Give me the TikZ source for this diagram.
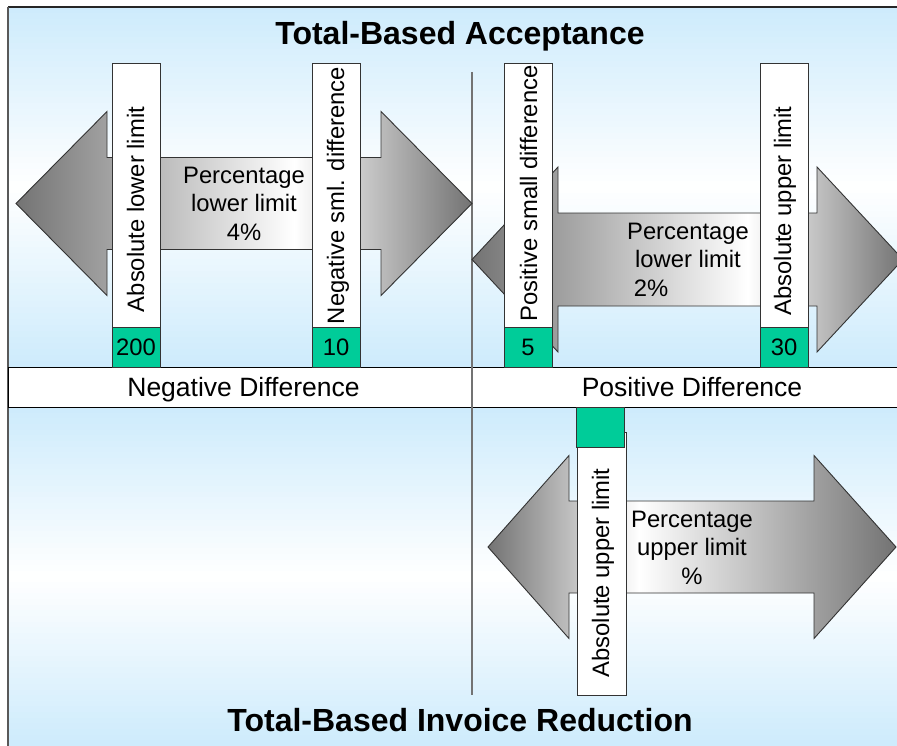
\documentclass[tikz,border=0pt]{standalone}
\usepackage{fontspec}
\setmainfont{Liberation Sans}
\definecolor{bgblue}{HTML}{CDEBFC}
\definecolor{agray}{HTML}{737373}
\definecolor{gbox}{HTML}{00CC99}
\definecolor{edge}{HTML}{333333}
\pgfdeclarehorizontalshading{arrA}{100bp}{color(0bp)=(agray); color(25bp)=(agray); color(55.5bp)=(white); color(75bp)=(agray); color(100bp)=(agray)}
\pgfdeclarehorizontalshading{arrB}{100bp}{color(0bp)=(agray); color(25bp)=(agray); color(57bp)=(white); color(75bp)=(agray); color(100bp)=(agray)}
\pgfdeclarehorizontalshading{arrC}{100bp}{color(0bp)=(agray); color(25bp)=(agray); color(43.5bp)=(white); color(75bp)=(agray); color(100bp)=(agray)}
% #1 tipL, #2 baseL, #3 baseR, #4 tipR, #5 cy, #6 head half height, #7 shaft half height, #8 shading
\newcommand{\dblarr}[8]{%
  \path[shading=#8, draw=edge, line width=0.9bp, line join=miter]
    (#1,#5) -- (#2,#5-#6) -- (#2,#5-#7) -- (#3,#5-#7) -- (#3,#5-#6) -- (#4,#5)
    -- (#3,#5+#6) -- (#3,#5+#7) -- (#2,#5+#7) -- (#2,#5+#6) -- cycle;}
% vertical blue-white-blue background made of strips: #1 top, #2 bottom
\newcommand{\bgpanel}[2]{%
  \foreach \i in {0,...,59}{%
    \pgfmathsetmacro{\ya}{#1+(#2-#1)/60*\i}%
    \pgfmathsetmacro{\yb}{#1+(#2-#1)/60*(\i+1)+0.6}%
    \pgfmathsetmacro{\tt}{abs(1-(\i+0.5)/30)*100}%
    \fill[bgblue!\tt!white] (8,\ya) rectangle (897,\yb);}}
\begin{document}
\begin{tikzpicture}[x=1bp, y=-1bp,
  txt/.style={font=\fontsize{23.8bp}{28.5bp}\selectfont, inner sep=0pt, text=black},
  band/.style={font=\fontsize{26.5bp}{30bp}\selectfont, inner sep=0pt},
  ttl/.style={font=\fontsize{32bp}{36bp}\selectfont\bfseries, inner sep=0pt},
  bar/.style={fill=white, draw=edge, line width=0.9bp},
  gbx/.style={fill=gbox, draw=edge, line width=0.9bp}]
\useasboundingbox (0,0) rectangle (897,746);
\fill[white] (0,0) rectangle (897,746);
% backgrounds
\bgpanel{7}{367}
\bgpanel{407}{746}
\draw[line width=2bp, color=black!85] (8,7) -- (897,7);
\draw[line width=1.5bp, color=black!65] (8,7) -- (8,746);
% middle band
\draw[fill=white, draw=black, line width=1bp] (8,367) rectangle (899,407);
\node[band, anchor=base] (negd) at (243.5,396) {Negative Difference};
\node[band, anchor=base] (posd) at (692,396) {Positive Difference};
% divider
\draw[line width=1.5bp, color=black!55] (472,72) -- (472,695);
% titles
\node[ttl, anchor=base] (t1) at (460,44.5) {Total-Based Acceptance};
\node[ttl, anchor=base] (t2) at (460,731.5) {Total-Based Invoice Reduction};
% arrows
\dblarr{16}{107}{381}{472}{203.5}{92}{46}{arrA}
\begin{scope}
\clip (0,0) rectangle (897,746);
\dblarr{472}{558}{817}{903}{259.5}{92.5}{46.5}{arrB}
\end{scope}
\dblarr{488}{569}{814}{896}{547}{91.5}{46}{arrC}
% arrow texts
\node[txt, align=center, anchor=north] (p1) at (244,166.7) {Percentage\\lower limit\\4\%};
\node[txt, align=center, anchor=north] (p2) at (688,222.7) {Percentage\\lower limit\\2\%\hspace*{74bp}};
\node[txt, align=center, anchor=north] (p3) at (692,510.7) {Percentage\\upper limit\\\%};
% top bars
\draw[bar] (112,63) rectangle (160,327);
\draw[gbx] (112,327) rectangle (160,367);
\draw[bar] (312,63) rectangle (360,327);
\draw[gbx] (312,327) rectangle (360,367);
\draw[bar] (504,63) rectangle (552,327);
\draw[gbx] (504,327) rectangle (552,367);
\draw[bar] (760,63) rectangle (808,327);
\draw[gbx] (760,327) rectangle (808,367);
\node[txt, rotate=90, anchor=base] (b1) at (144,209.5) {Absolute lower limit};
\node[txt, rotate=90, anchor=base] (b2) at (344,195.5) {Negative sml. difference};
\node[txt, rotate=90, anchor=base] (b3) at (537,193.5) {Positive small difference};
\node[txt, rotate=90, anchor=base] (b4) at (791,211) {Absolute upper limit};
\node[txt] (n1) at (136,347) {200};
\node[txt] (n2) at (336,347) {10};
\node[txt] (n3) at (528,347) {5};
\node[txt] (n4) at (784,347) {30};
% bottom bar
\draw[bar] (577,432) rectangle (626,695);
\draw[gbx] (576,407) rectangle (624,447);
\node[txt, rotate=90, anchor=base] (b5) at (609,573) {Absolute upper limit};
\end{tikzpicture}
\end{document}
